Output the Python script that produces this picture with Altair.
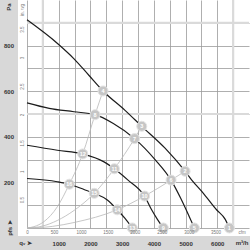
import altair as alt
import pandas as pd

# ---- Fan curves: airflow (m³/h) and static pressure (Pa)
curve1_q = [0, 980, 1483, 1950, 2397, 3091, 3618, 4353, 4984, 5196, 5562, 5984, 6246, 6382]
curve1_p = [913, 807, 742, 670, 601, 516, 446, 350, 249, 210, 152, 79, 39, 0]
curve2_q = [0, 700, 1480, 2145, 2722, 3391, 4038, 4543, 4858, 5110, 5278]
curve2_p = [549, 525, 510, 497, 458, 392, 300, 210, 127, 52, 0]
curve3_q = [0, 956, 1757, 2429, 2754, 3186, 3707, 3934, 4117, 4300]
curve3_p = [363, 341, 325, 290, 260, 210, 140, 79, 37, 0]
curve4_q = [0, 956, 1334, 1798, 2120, 2533, 2845, 3091, 3319]
curve4_p = [217, 203, 192, 169, 152, 123, 80, 42, 0]

# ---- System (operating) lines through the origin
sysA_q = [0, 221, 536, 956, 1334, 1757, 2145, 2397]
sysA_p = [0, 6, 28, 93, 192, 325, 497, 601]
sysB_q = [0, 478, 956, 1483, 2120, 2754, 3391, 3618]
sysB_p = [0, 8, 33, 77, 152, 260, 392, 446]
sysC_q = [0, 800, 1483, 2845, 3707, 4543, 4984]
sysC_p = [0, 7, 24, 80, 140, 210, 249]

# ---- Numbered operating points
point_labels = [str(i) for i in range(1, 17)]
point_q = [6382, 4984, 3618, 2397, 5278, 4543, 3391, 2145, 4300, 3707, 2754, 1757, 3319, 2845, 2120, 1334]
point_p = [0, 249, 446, 601, 0, 210, 392, 497, 0, 140, 260, 325, 0, 80, 152, 192]

# ---- Light reference lines
light_q = [500, 6500]
light_p = [500, 900]

# ---- Axis tick labels
pa_labels = [200, 400, 600, 800]
m3h_labels = [1000, 2000, 3000, 4000, 5000, 6000]
cfm_labels = [0, 500, 1000, 1500, 2000, 2500, 3000, 3500]
inwg_labels = [0.5, 1, 1.5, 2, 2.5, 3, 3.5]
grid_q = list(range(0, 7000, 500))
grid_p = list(range(0, 1000, 100))

note_texts = ["Pa", "in. wg", "cfm", "m³/h", "qᵥ ➤", "pfs ➤"]

FONT = "Liberation Sans"
Q_MAX = 7000
P_MAX = 1000

fan_df = pd.concat([
    pd.DataFrame({"q": q, "p": p, "s": name})
    for name, q, p in [("A", curve1_q, curve1_p), ("B", curve2_q, curve2_p),
                       ("C", curve3_q, curve3_p), ("D", curve4_q, curve4_p)]
])
sys_df = pd.concat([
    pd.DataFrame({"q": q, "p": p, "s": name})
    for name, q, p in [("A", sysA_q, sysA_p), ("B", sysB_q, sysB_p), ("C", sysC_q, sysC_p)]
])
pts_df = pd.DataFrame({"q": point_q, "p": point_p, "label": point_labels})
dummy = pd.DataFrame({"q": [0], "p": [0]})

xs = alt.Scale(domain=[0, Q_MAX], nice=False, zero=False)
ys = alt.Scale(domain=[0, P_MAX], nice=False, zero=False)

grid_x = alt.Axis(orient="bottom", values=grid_q, grid=True, gridColor="#9a9a9a", gridWidth=0.8,
                  labels=False, ticks=False, domain=False, title=None, zindex=0)
grid_y = alt.Axis(orient="left", values=grid_p, grid=True, gridColor="#9a9a9a", gridWidth=0.8,
                  labels=False, ticks=False, domain=False, title=None, zindex=0)
X = alt.X("q:Q", scale=xs, axis=grid_x)
Y = alt.Y("p:Q", scale=ys, axis=grid_y)

strip_left = alt.Chart(dummy).mark_rect(color="#d8d8d8").encode(
    x=alt.value(-27), x2=alt.value(-9), y=alt.value(0), y2=alt.value(250))
strip_bottom = alt.Chart(dummy).mark_rect(color="#d8d8d8").encode(
    x=alt.value(-27), x2=alt.value(223), y=alt.value(236), y2=alt.value(250))

rules_x = alt.Chart(pd.DataFrame({"q": light_q})).mark_rule(color="#dadada", strokeWidth=2.2).encode(x=X)
rules_y = alt.Chart(pd.DataFrame({"p": light_p})).mark_rule(color="#dadada", strokeWidth=2.2).encode(y=Y)

sys_lines = alt.Chart(sys_df).mark_line(color="#b8b8b8", strokeWidth=0.8, interpolate="monotone").encode(
    x=X, y=Y, detail="s:N")
fan_lines = alt.Chart(fan_df).mark_line(color="#1c1c1c", strokeWidth=1.2, interpolate="monotone").encode(
    x=X, y=Y, detail="s:N")
circles = alt.Chart(pts_df).mark_circle(size=100, color="#c6c6c6", stroke="#e4e4e4",
                                        strokeWidth=1, opacity=1).encode(x=X, y=Y)
circle_txt = alt.Chart(pts_df).mark_text(color="white", fontSize=5.5, fontWeight="bold", font=FONT,
                                         align="center", baseline="middle").encode(x=X, y=Y, text="label:N")


def note(txt, x, y, size, color, weight="normal", angle=0):
    return alt.Chart(dummy).mark_text(text=txt, fontSize=size, color=color, fontWeight=weight,
                                      font=FONT, angle=angle, align="center", baseline="middle").encode(
        x=alt.value(x), y=alt.value(y))


notes = [
    note(note_texts[0], -18.5, 7, 6, "#333", "bold", 270),
    note(note_texts[1], -4.5, 10, 4.5, "#777", "normal", 270),
    note(note_texts[2], 215, 232.5, 4.5, "#777"),
    note(note_texts[3], 215, 243.3, 6, "#333", "bold"),
    note(note_texts[4], -1.5, 243.3, 6, "#333", "bold"),
    note(note_texts[5], -17, 228, 6, "#333", "bold", 270),
]

main = alt.layer(strip_left, strip_bottom, rules_x, rules_y, sys_lines, fan_lines, circles, circle_txt, *notes)

lab_x = alt.Axis(orient="bottom", values=m3h_labels, format="d", labelPadding=15.3, labelBaseline="middle",
                 labelAlign="center", ticks=False, domain=False, grid=False, title=None, zindex=1,
                 labelFont=FONT, labelFontSize=6, labelFontWeight="bold", labelColor="#333",
                 labelFlush=False, labelOverlap=False)
lab_y = alt.Axis(orient="left", values=pa_labels, format="d", labelPadding=18.5, labelBaseline="middle",
                 labelAlign="center", ticks=False, domain=False, grid=False, title=None, zindex=1,
                 labelFont=FONT, labelFontSize=6, labelFontWeight="bold", labelColor="#333",
                 labelFlush=False, labelOverlap=False)
label_layer = alt.Chart(dummy).mark_point(opacity=0).encode(
    x=alt.X("q:Q", scale=xs, axis=lab_x), y=alt.Y("p:Q", scale=ys, axis=lab_y))

cfm_axis = alt.Axis(orient="bottom", values=cfm_labels, labelExpr="'' + datum.value", labelPadding=4.6,
                    labelBaseline="middle", labelAlign="center", ticks=False, domain=False, grid=False,
                    title=None, zindex=1, labelFont=FONT, labelFontSize=4.5, labelColor="#777",
                    labelFlush=False, labelOverlap=False)
inwg_axis = alt.Axis(orient="left", values=inwg_labels, labelExpr="'' + datum.value", labelPadding=4.5,
                     labelAngle=270, labelBaseline="middle", labelAlign="center", ticks=False, domain=False,
                     grid=False, title=None, zindex=1, labelFont=FONT, labelFontSize=4.5, labelColor="#777",
                     labelFlush=False, labelOverlap=False)
sec_layer = alt.Chart(pd.DataFrame({"cfm": [0], "inwg": [0]})).mark_point(opacity=0).encode(
    x=alt.X("cfm:Q", scale=alt.Scale(domain=[0, Q_MAX / 1.699], nice=False, zero=False), axis=cfm_axis),
    y=alt.Y("inwg:Q", scale=alt.Scale(domain=[0, P_MAX / 249.09], nice=False, zero=False), axis=inwg_axis))

chart = alt.layer(main, label_layer, sec_layer).resolve_scale(
    x="independent", y="independent"
).properties(
    width=222, height=228,
    padding={"left": 27, "top": 0, "right": 1, "bottom": 22},
    autosize=alt.AutoSizeParams(type="none"),
    background="white",
).configure_view(stroke=None)

chart.save("out.html", embed_options={"renderer": "svg", "actions": False})
